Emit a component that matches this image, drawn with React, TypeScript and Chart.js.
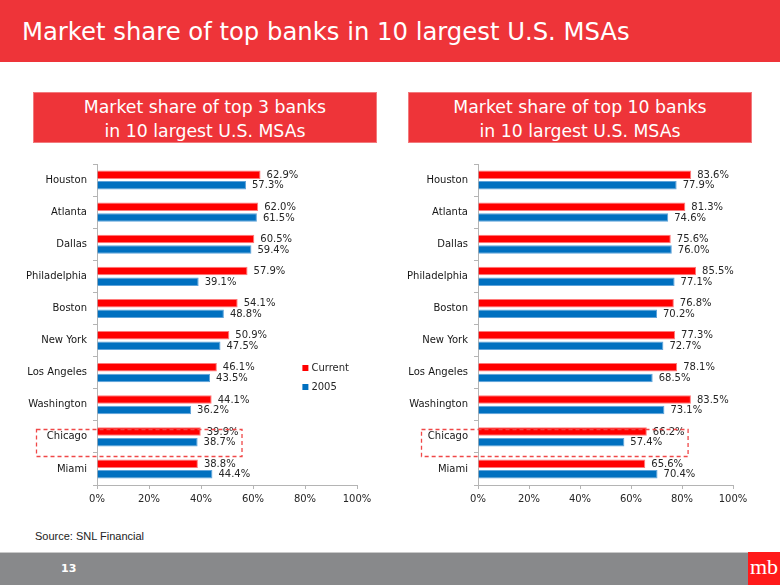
import React, { useEffect, useRef } from "react";
import { Chart, registerables } from "chart.js";

Chart.register(...registerables);

// ---- Data ----
const cities = [
  "Houston",
  "Atlanta",
  "Dallas",
  "Philadelphia",
  "Boston",
  "New York",
  "Los Angeles",
  "Washington",
  "Chicago",
  "Miami",
];
const top3Current = [62.9, 62.0, 60.5, 57.9, 54.1, 50.9, 46.1, 44.1, 39.9, 38.8];
const top3Y2005 = [57.3, 61.5, 59.4, 39.1, 48.8, 47.5, 43.5, 36.2, 38.7, 44.4];
const top10Current = [83.6, 81.3, 75.6, 85.5, 76.8, 77.3, 78.1, 83.5, 66.2, 65.6];
const top10Y2005 = [77.9, 74.6, 76.0, 77.1, 70.2, 72.7, 68.5, 73.1, 57.4, 70.4];
const xTickValues = [0, 20, 40, 60, 80, 100];
const seriesLabels = ["Current", "2005"];
const highlightCity = "Chicago";

const pageTitle = "Market share of top banks in 10 largest U.S. MSAs";
const leftTitle = ["Market share of top 3 banks", "in 10 largest U.S. MSAs"];
const rightTitle = ["Market share of top 10 banks", "in 10 largest U.S. MSAs"];
const sourceText = "Source: SNL Financial";
const pageNumber = "13";

const RED = "#FF0000";
const BLUE = "#0070C0";
const SLIDE_RED = "#EE3439";
const TEXT = "#262626";
const AXIS = "#B4B4B4";
const FONT = "'DejaVu Sans', Verdana, sans-serif";

const fmt = (v: number) => v.toFixed(1) + "%";

type PanelProps = {
  current: number[];
  prior: number[];
  left: number;
  yWidth: number;
  padRight: number;
  boxLeft: number;
  legend: boolean;
};

function BarPanel({ current, prior, left, yWidth, padRight, boxLeft, legend }: PanelProps) {
  const ref = useRef<HTMLCanvasElement>(null);

  useEffect(() => {
    const labelPlugin = {
      id: "valueLabels",
      afterDatasetsDraw(chart: any) {
        const ctx = chart.ctx;
        ctx.save();
        ctx.font = `10px ${FONT}`;
        ctx.fillStyle = TEXT;
        ctx.textBaseline = "middle";
        ctx.textAlign = "left";
        chart.data.datasets.forEach((ds: any, di: number) => {
          const meta = chart.getDatasetMeta(di);
          meta.data.forEach((el: any, i: number) => {
            ctx.fillText(fmt(ds.data[i]), el.x + 6, el.y + 0.5);
          });
        });
        ctx.restore();
      },
    };

    const highlightPlugin = {
      id: "highlightBox",
      afterDraw(chart: any) {
        const ctx = chart.ctx;
        const idx = cities.indexOf(highlightCity);
        const yc = chart.scales.y.getPixelForValue(idx);
        const maxVal = Math.max(current[idx], prior[idx]);
        ctx.save();
        ctx.font = `10px ${FONT}`;
        const w = ctx.measureText(fmt(maxVal)).width;
        const right = chart.scales.x.getPixelForValue(maxVal) + 6 + w + 3;
        ctx.strokeStyle = "#F04848";
        ctx.lineWidth = 1.3;
        ctx.setLineDash([4, 3]);
        ctx.strokeRect(boxLeft + 0.5, Math.round(yc - 8) + 0.5, right - boxLeft, 27);
        ctx.restore();
      },
    };

    const legendPlugin = {
      id: "insideLegend",
      afterDraw(chart: any) {
        if (!legend) return;
        const ctx = chart.ctx;
        const area = chart.chartArea;
        const x = area.left + 0.79 * (area.right - area.left);
        const y0 = area.top + 204;
        ctx.save();
        ctx.font = `10px ${FONT}`;
        ctx.textBaseline = "middle";
        chart.data.datasets.forEach((ds: any, i: number) => {
          const y = y0 + i * 19;
          ctx.fillStyle = ds.backgroundColor;
          ctx.fillRect(x, y - 3, 6, 6);
          ctx.fillStyle = TEXT;
          ctx.fillText(ds.label, x + 9, y);
        });
        ctx.restore();
      },
    };

    const chart = new Chart(ref.current!, {
      type: "bar",
      data: {
        labels: cities,
        datasets: [
          {
            label: seriesLabels[0],
            data: current,
            backgroundColor: RED,
            borderColor: "#FF7A7A",
            borderWidth: 1,
            categoryPercentage: 0.66,
            barPercentage: 0.8,
          },
          {
            label: seriesLabels[1],
            data: prior,
            backgroundColor: BLUE,
            borderColor: "#5EA3DA",
            borderWidth: 1,
            categoryPercentage: 0.66,
            barPercentage: 0.8,
          },
        ],
      },
      options: {
        indexAxis: "y",
        responsive: false,
        animation: false,
        layout: { padding: { top: 14, right: padRight, left: 0, bottom: 0 } },
        plugins: { legend: { display: false }, tooltip: { enabled: false } },
        scales: {
          x: {
            min: 0,
            max: 100,
            afterBuildTicks: (s: any) => {
              s.ticks = xTickValues.map((v) => ({ value: v }));
            },
            ticks: {
              callback: (v: any) => v + "%",
              font: { family: FONT, size: 10 },
              color: TEXT,
              padding: 4,
              maxRotation: 0,
            },
            grid: { drawOnChartArea: false, tickLength: 4, color: AXIS },
            border: { color: AXIS },
            afterFit: (s: any) => {
              s.height = 30;
              s.paddingLeft = 0;
              s.paddingRight = 0;
            },
          },
          y: {
            ticks: { font: { family: FONT, size: 10 }, color: "#161616", padding: 6 },
            grid: { drawOnChartArea: false, tickLength: 4, color: AXIS, offset: true },
            border: { color: AXIS },
            afterFit: (s: any) => {
              s.width = yWidth;
            },
          },
        },
      } as any,
      plugins: [labelPlugin, highlightPlugin, legendPlugin],
    });
    return () => chart.destroy();
  }, []);

  return (
    <canvas
      ref={ref}
      width={390}
      height={365}
      style={{ position: "absolute", left, top: 150, width: 390, height: 365, display: "block" }}
    />
  );
}

function SubTitle({ lines, left }: { lines: string[]; left: number }) {
  return (
    <div
      style={{
        position: "absolute",
        left,
        top: 92,
        width: 344,
        height: 51,
        background: SLIDE_RED,
        border: "1px solid #F27A7D",
        boxSizing: "border-box",
        color: "#fff",
        fontFamily: FONT,
        fontSize: 17.3,
        lineHeight: "24px",
        textAlign: "center",
        paddingTop: 2,
      }}
    >
      {lines.map((l, i) => (
        <div key={i}>{l}</div>
      ))}
    </div>
  );
}

export default function App() {
  return (
    <div
      style={{
        position: "fixed",
        left: 0,
        top: 0,
        width: 780,
        height: 585,
        background: "#fff",
        overflow: "hidden",
      }}
    >
      <div
        style={{
          position: "absolute",
          left: 0,
          top: 0,
          width: 780,
          height: 62,
          background: SLIDE_RED,
        }}
      />
      <div
        style={{
          position: "absolute",
          left: 22,
          top: 14,
          color: "#fff",
          fontFamily: FONT,
          fontSize: 24.3,
          lineHeight: "36px",
          whiteSpace: "nowrap",
        }}
      >
        {pageTitle}
      </div>
      <SubTitle lines={leftTitle} left={33} />
      <SubTitle lines={rightTitle} left={408} />
      <BarPanel
        current={top3Current}
        prior={top3Y2005}
        left={0}
        yWidth={97}
        padRight={33}
        boxLeft={36}
        legend={true}
      />
      <BarPanel
        current={top10Current}
        prior={top10Y2005}
        left={390}
        yWidth={88}
        padRight={47}
        boxLeft={31}
        legend={false}
      />
      <div
        style={{
          position: "absolute",
          left: 35,
          top: 530,
          fontFamily: "'Liberation Sans', Arial, sans-serif",
          fontSize: 11,
          color: "#222",
          whiteSpace: "nowrap",
        }}
      >
        {sourceText}
      </div>
      <div
        style={{
          position: "absolute",
          left: 0,
          top: 552,
          width: 780,
          height: 33,
          background: "#88898B",
          borderTop: "1px solid #C9C9C9",
          boxSizing: "border-box",
        }}
      />
      <div
        style={{
          position: "absolute",
          left: 61,
          top: 561,
          color: "#fff",
          fontFamily: FONT,
          fontWeight: "bold",
          fontSize: 11,
          lineHeight: "16px",
        }}
      >
        {pageNumber}
      </div>
      <div
        style={{
          position: "absolute",
          left: 748,
          top: 552,
          width: 32,
          height: 33,
          background: "#FF1A1A",
          color: "#fff",
          fontFamily: "'Liberation Serif', 'DejaVu Serif', serif",
          fontSize: 22,
          lineHeight: "30px",
          textAlign: "center",
          overflow: "hidden",
        }}
      >
        mb
      </div>
    </div>
  );
}
